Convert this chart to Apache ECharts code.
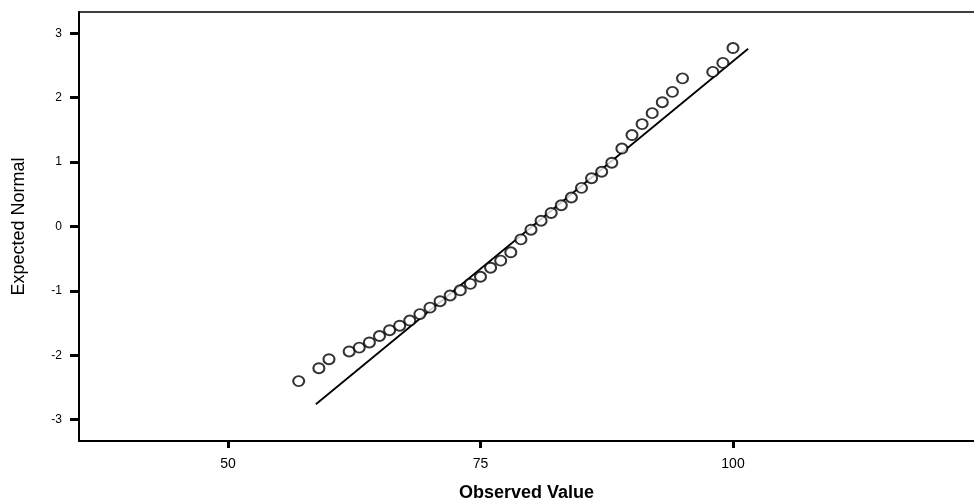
<!DOCTYPE html>
<html>
<head>
<meta charset="utf-8">
<script src="https://cdn.jsdelivr.net/npm/echarts@6/dist/echarts.min.js"></script>
<style>
html,body{margin:0;padding:0;background:#fff;}
#c{width:974px;height:501px;}
</style>
</head>
<body>
<div id="c"></div>
<script>
// Observed values (x) and expected normal values (y)
var observed = [57,59,60,62,63,64,65,66,67,68,69,70,71,72,73,74,75,76,77,78,79,80,81,82,83,84,85,86,87,88,89,90,91,92,93,94,95,98,99,100];
var expected = [-2.40,-2.20,-2.06,-1.94,-1.88,-1.80,-1.70,-1.61,-1.54,-1.46,-1.36,-1.26,-1.16,-1.07,-0.99,-0.89,-0.78,-0.64,-0.53,-0.40,-0.20,-0.05,0.09,0.21,0.33,0.45,0.60,0.75,0.85,0.99,1.21,1.42,1.59,1.76,1.93,2.09,2.30,2.40,2.54,2.77];
// reference line endpoints
var lineX = [58.7, 101.5];
var lineY = [-2.76, 2.76];
var xTicks = [50, 75, 100];
var yTicks = [-3, -2, -1, 0, 1, 2, 3];

var pts = observed.map(function(v,i){return [v, expected[i]];});
var linePts = lineX.map(function(v,i){return [v, lineY[i]];});

var chart = echarts.init(document.getElementById('c'));
chart.setOption({
  animation: false,
  backgroundColor: '#fff',
  grid: {left: 79, top: 12, right: 0, bottom: 60, containLabel: false, outerBoundsMode: 'none'},
  xAxis: [{
    type: 'value', min: 35.25, max: 123.86,
    name: 'Observed Value', nameLocation: 'middle', nameGap: 43,
    nameTextStyle: {fontFamily: 'Liberation Sans, Arial', fontSize: 18, fontWeight: 'bold', color: '#000'},
    axisLine: {show: true, onZero: false, lineStyle: {color: '#000', width: 2}},
    axisTick: {show: true, customValues: xTicks, length: 7, lineStyle: {color: '#000', width: 3}},
    axisLabel: {customValues: xTicks, color: '#000', fontFamily: 'Liberation Sans, Arial', fontSize: 14, margin: 16},
    splitLine: {show: false}
  }, {
    type: 'value', position: 'top', min: 35.25, max: 123.86,
    axisLine: {show: true, onZero: false, lineStyle: {color: '#000', width: 1.5}},
    axisTick: {show: false}, axisLabel: {show: false}, splitLine: {show: false}
  }],
  yAxis: [{
    type: 'value', min: -3.33, max: 3.33,
    name: 'Expected Normal', nameLocation: 'middle', nameGap: 51, nameRotate: 90,
    nameTextStyle: {fontFamily: 'Liberation Sans, Arial', fontSize: 18, color: '#000'},
    axisLine: {show: true, onZero: false, lineStyle: {color: '#000', width: 2}},
    axisTick: {show: true, customValues: yTicks, length: 9, lineStyle: {color: '#000', width: 3}},
    axisLabel: {customValues: yTicks, color: '#000', fontFamily: 'Liberation Sans, Arial', fontSize: 12, margin: 17},
    splitLine: {show: false}
  }],
  series: [{
    type: 'line', data: linePts, symbol: 'none',
    lineStyle: {color: '#000', width: 1.8}, z: 2
  }, {
    type: 'scatter', data: pts, symbol: 'emptyCircle', symbolSize: [11, 10],
    itemStyle: {color: '#000', borderColor: '#000', borderWidth: 2}, z: 3
  }]
});
</script>
</body>
</html>
